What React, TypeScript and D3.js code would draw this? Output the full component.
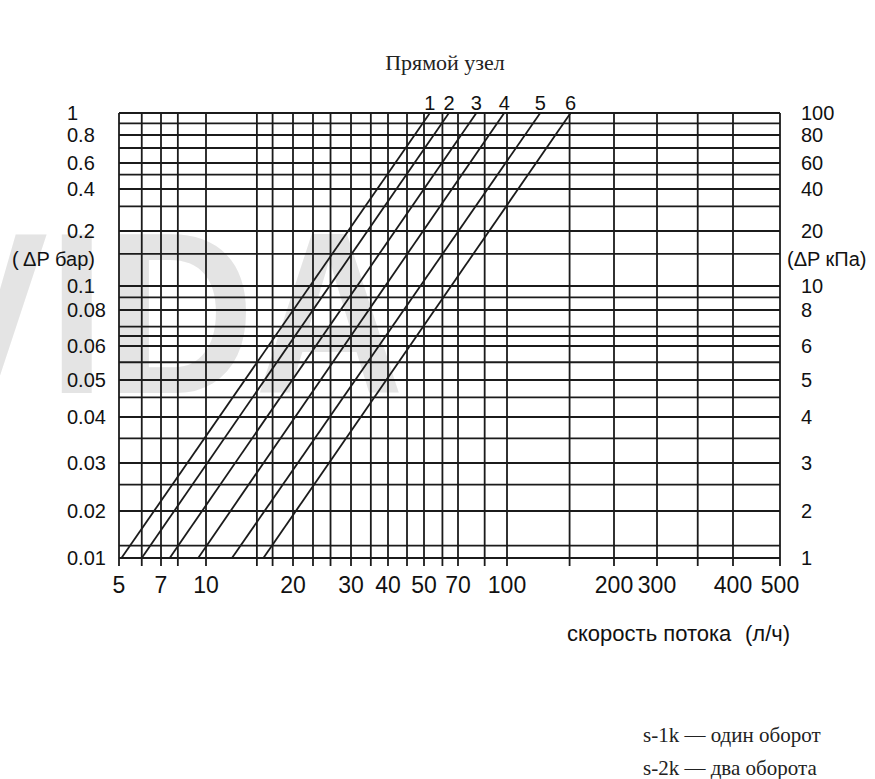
import * as d3 from "d3";

// flow (l/h) tick labels along the bottom
const flowTicks = [5, 7, 10, 20, 30, 40, 50, 70, 100, 200, 300, 400, 500];
// vertical grid lines of the original chart
const flowGrid = [5, 6, 7, 8, 10, 15, 17, 20, 23, 26, 30, 35, 40, 45, 50, 60, 70, 85, 100, 150, 200, 300, 350, 400, 500];

// pressure drop, bar (left) and kPa (right)
const barTicks = [1, 0.8, 0.6, 0.4, 0.2, 0.1, 0.08, 0.06, 0.05, 0.04, 0.03, 0.02, 0.01];
const kpaTicks = [100, 80, 60, 40, 20, 10, 8, 6, 5, 4, 3, 2, 1];
const barGrid = [1, 0.9, 0.8, 0.7, 0.6, 0.5, 0.4, 0.3, 0.2, 0.15, 0.1, 0.09, 0.08, 0.07, 0.065, 0.06, 0.055, 0.05, 0.045, 0.04, 0.035, 0.03, 0.025, 0.02, 0.012, 0.01];

// valve curves: flow at 0.01 bar and at 1 bar
const curveNames = ["1", "2", "3", "4", "5", "6"];
const flowAtLow = [5.1, 6.0, 7.5, 9.4, 12.3, 15.8];
const flowAtHigh = [53, 64, 80, 98, 124, 151];
const pressureLow = 0.01;
const pressureHigh = 1;

const legendLines = ["s-1k — один оборот", "s-2k — два оборота"];

// the printed chart is not a true log grid, so the scales are calibrated
// piecewise on the labelled values
const xKnots = [119, 161, 206, 293, 351, 388, 424, 458, 507, 614, 657, 733, 780];
const yKnots = [113, 135, 163, 189, 231, 286, 310, 346, 380, 417, 463, 511, 558];

const x = d3.scaleLinear().domain(flowTicks.map(Math.log10)).range(xKnots);
const y = d3.scaleLinear().domain(barTicks.map(Math.log10)).range(yKnots);
const fx = (q: number) => x(Math.log10(q));
const fy = (p: number) => y(Math.log10(p));

const sans = "'Liberation Sans', Arial, sans-serif";
const serif = "'Liberation Serif', 'Times New Roman', serif";
const ink = "#1b1b1b";

export default function App() {
  const left = fx(5);
  const right = fx(500);
  const top = fy(1);
  const bottom = fy(0.01);

  const curves = curveNames.map((name, i) => ({
    name,
    x1: fx(flowAtLow[i]),
    y1: fy(pressureLow),
    x2: fx(flowAtHigh[i]),
    y2: fy(pressureHigh),
  }));

  return (
    <svg
      width={875}
      height={779}
      style={{ position: "absolute", left: 0, top: 0, display: "block", background: "#fff" }}
    >
      {/* watermark */}
      <text
        x={-90}
        y={393}
        fontFamily={sans}
        fontWeight="bold"
        fontSize={230}
        fill="#e4e4e4"
        textLength={494}
        lengthAdjust="spacingAndGlyphs"
      >
        VIDA
      </text>

      <text x={445} y={70} textAnchor="middle" fontFamily={serif} fontSize={22} fill="#222">
        Прямой узел
      </text>

      {/* grid */}
      <g stroke={ink} strokeWidth={1.8}>
        {flowGrid.map((q) => (
          <line key={"v" + q} x1={fx(q)} x2={fx(q)} y1={top} y2={bottom + 8} />
        ))}
        {barGrid.map((p) => (
          <line key={"h" + p} x1={left} x2={right} y1={fy(p)} y2={fy(p)} />
        ))}
      </g>

      {/* curves */}
      <g stroke={ink} strokeWidth={1.8}>
        {curves.map((c) => (
          <line key={c.name} x1={c.x1} y1={c.y1} x2={c.x2} y2={c.y2} />
        ))}
      </g>
      <g fontFamily={sans} fontSize={20} fill="#111" textAnchor="middle">
        {curves.map((c) => (
          <text key={c.name} x={c.x2} y={top - 3}>
            {c.name}
          </text>
        ))}
      </g>

      {/* left axis, bar */}
      <g fontFamily={sans} fontSize={20} fill="#111">
        {barTicks.map((p) => (
          <text key={p} x={67} y={fy(p) + 7}>
            {String(p)}
          </text>
        ))}
        <text x={12} y={266}>( ΔP бар)</text>
      </g>

      {/* right axis, kPa */}
      <g fontFamily={sans} fontSize={20} fill="#111">
        {kpaTicks.map((k) => (
          <text key={k} x={right + 21} y={fy(k / 100) + 7}>
            {String(k)}
          </text>
        ))}
        <text x={787} y={266}>(ΔP кПа)</text>
      </g>

      {/* bottom axis */}
      <g fontFamily={sans} fontSize={23} fill="#111" textAnchor="middle">
        {flowTicks.map((q) => (
          <text key={q} x={fx(q)} y={593}>
            {String(q)}
          </text>
        ))}
      </g>
      <g fontFamily={sans} fontSize={22} fill="#111">
        <text x={567} y={641}>скорость потока</text>
        <text x={745} y={641}>(л/ч)</text>
      </g>

      <g fontFamily={serif} fontSize={21} fill="#222">
        {legendLines.map((t, i) => (
          <text key={t} x={643} y={742 + i * 33}>
            {t}
          </text>
        ))}
      </g>
    </svg>
  );
}
